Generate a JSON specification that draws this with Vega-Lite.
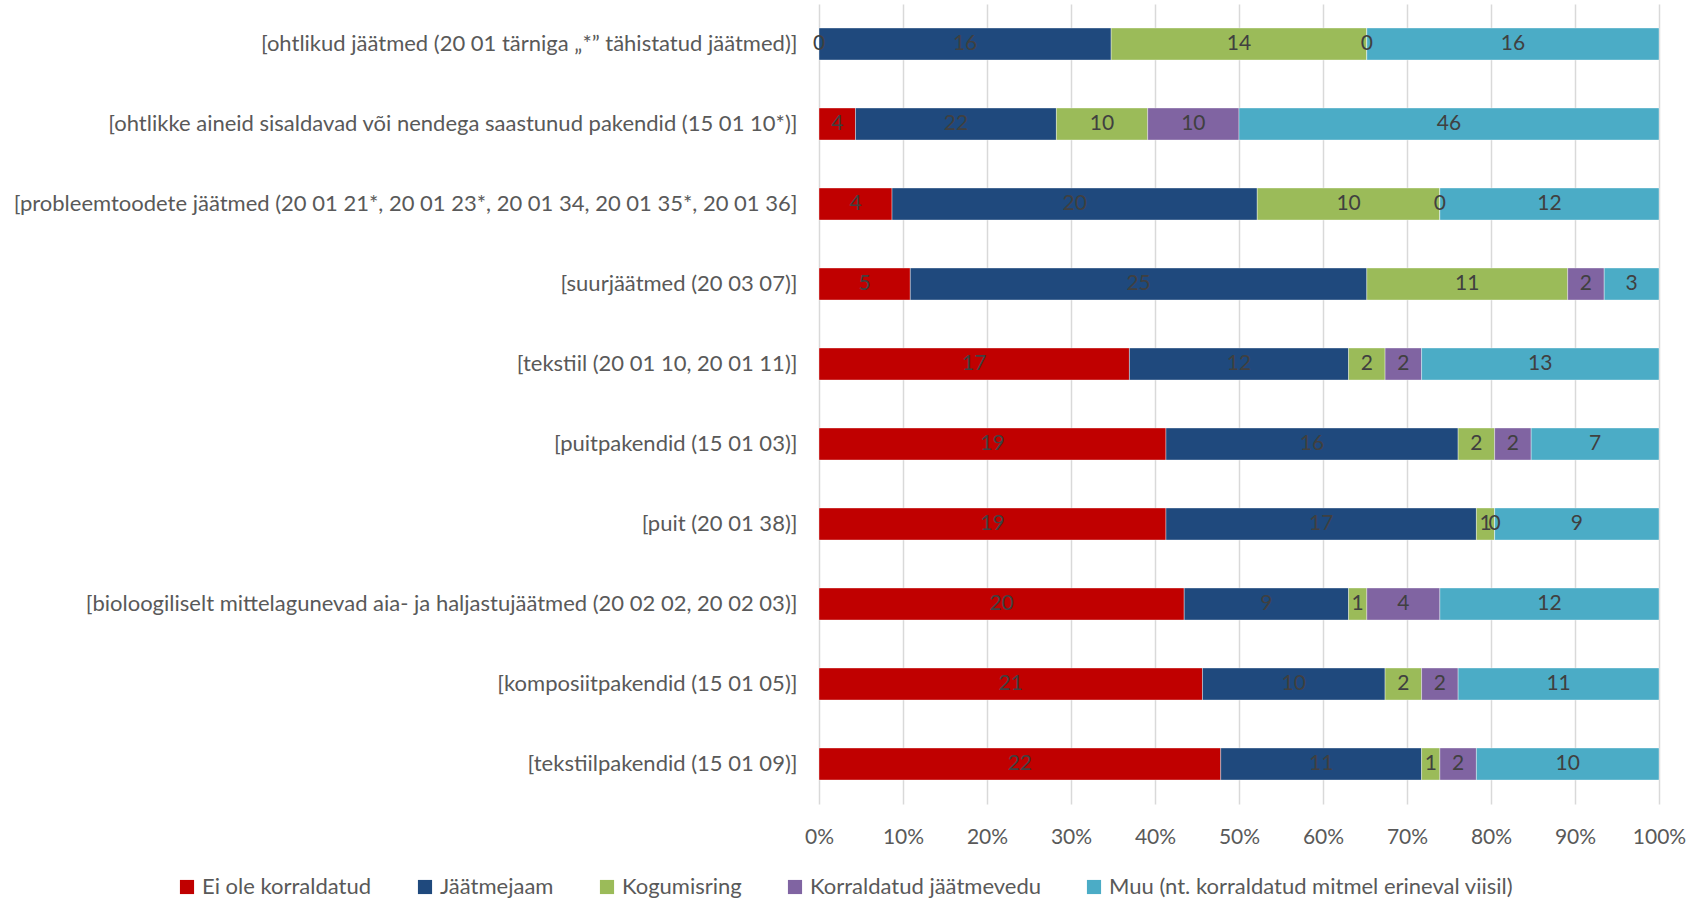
{
  "$schema": "https://vega.github.io/schema/vega-lite/v6.json",
  "autosize": {"type": "none"},
  "width": 840,
  "height": 800,
  "padding": {"left": 819, "top": 4, "right": 42, "bottom": 96},
  "background": "white",
  "config": {
    "font": "Lato",
    "view": {"stroke": null}
  },
  "data": {
    "values": [
      {"cat": "[ohtlikud jäätmed (20 01 tärniga „*” tähistatud jäätmed)]", "type": "Ei ole korraldatud", "n": 0},
      {"cat": "[ohtlikud jäätmed (20 01 tärniga „*” tähistatud jäätmed)]", "type": "Jäätmejaam", "n": 16},
      {"cat": "[ohtlikud jäätmed (20 01 tärniga „*” tähistatud jäätmed)]", "type": "Kogumisring", "n": 14},
      {"cat": "[ohtlikud jäätmed (20 01 tärniga „*” tähistatud jäätmed)]", "type": "Korraldatud jäätmevedu", "n": 0},
      {"cat": "[ohtlikud jäätmed (20 01 tärniga „*” tähistatud jäätmed)]", "type": "Muu (nt. korraldatud mitmel erineval viisil)", "n": 16},

      {"cat": "[ohtlikke aineid sisaldavad või nendega saastunud pakendid (15 01 10*)]", "type": "Ei ole korraldatud", "n": 4},
      {"cat": "[ohtlikke aineid sisaldavad või nendega saastunud pakendid (15 01 10*)]", "type": "Jäätmejaam", "n": 22},
      {"cat": "[ohtlikke aineid sisaldavad või nendega saastunud pakendid (15 01 10*)]", "type": "Kogumisring", "n": 10},
      {"cat": "[ohtlikke aineid sisaldavad või nendega saastunud pakendid (15 01 10*)]", "type": "Korraldatud jäätmevedu", "n": 10},
      {"cat": "[ohtlikke aineid sisaldavad või nendega saastunud pakendid (15 01 10*)]", "type": "Muu (nt. korraldatud mitmel erineval viisil)", "n": 46},

      {"cat": "[probleemtoodete jäätmed (20 01 21*, 20 01 23*, 20 01 34, 20 01 35*, 20 01 36]", "type": "Ei ole korraldatud", "n": 4},
      {"cat": "[probleemtoodete jäätmed (20 01 21*, 20 01 23*, 20 01 34, 20 01 35*, 20 01 36]", "type": "Jäätmejaam", "n": 20},
      {"cat": "[probleemtoodete jäätmed (20 01 21*, 20 01 23*, 20 01 34, 20 01 35*, 20 01 36]", "type": "Kogumisring", "n": 10},
      {"cat": "[probleemtoodete jäätmed (20 01 21*, 20 01 23*, 20 01 34, 20 01 35*, 20 01 36]", "type": "Korraldatud jäätmevedu", "n": 0},
      {"cat": "[probleemtoodete jäätmed (20 01 21*, 20 01 23*, 20 01 34, 20 01 35*, 20 01 36]", "type": "Muu (nt. korraldatud mitmel erineval viisil)", "n": 12},

      {"cat": "[suurjäätmed (20 03 07)]", "type": "Ei ole korraldatud", "n": 5},
      {"cat": "[suurjäätmed (20 03 07)]", "type": "Jäätmejaam", "n": 25},
      {"cat": "[suurjäätmed (20 03 07)]", "type": "Kogumisring", "n": 11},
      {"cat": "[suurjäätmed (20 03 07)]", "type": "Korraldatud jäätmevedu", "n": 2},
      {"cat": "[suurjäätmed (20 03 07)]", "type": "Muu (nt. korraldatud mitmel erineval viisil)", "n": 3},

      {"cat": "[tekstiil (20 01 10, 20 01 11)]", "type": "Ei ole korraldatud", "n": 17},
      {"cat": "[tekstiil (20 01 10, 20 01 11)]", "type": "Jäätmejaam", "n": 12},
      {"cat": "[tekstiil (20 01 10, 20 01 11)]", "type": "Kogumisring", "n": 2},
      {"cat": "[tekstiil (20 01 10, 20 01 11)]", "type": "Korraldatud jäätmevedu", "n": 2},
      {"cat": "[tekstiil (20 01 10, 20 01 11)]", "type": "Muu (nt. korraldatud mitmel erineval viisil)", "n": 13},

      {"cat": "[puitpakendid (15 01 03)]", "type": "Ei ole korraldatud", "n": 19},
      {"cat": "[puitpakendid (15 01 03)]", "type": "Jäätmejaam", "n": 16},
      {"cat": "[puitpakendid (15 01 03)]", "type": "Kogumisring", "n": 2},
      {"cat": "[puitpakendid (15 01 03)]", "type": "Korraldatud jäätmevedu", "n": 2},
      {"cat": "[puitpakendid (15 01 03)]", "type": "Muu (nt. korraldatud mitmel erineval viisil)", "n": 7},

      {"cat": "[puit (20 01 38)]", "type": "Ei ole korraldatud", "n": 19},
      {"cat": "[puit (20 01 38)]", "type": "Jäätmejaam", "n": 17},
      {"cat": "[puit (20 01 38)]", "type": "Kogumisring", "n": 1},
      {"cat": "[puit (20 01 38)]", "type": "Korraldatud jäätmevedu", "n": 0},
      {"cat": "[puit (20 01 38)]", "type": "Muu (nt. korraldatud mitmel erineval viisil)", "n": 9},

      {"cat": "[bioloogiliselt mittelagunevad aia- ja haljastujäätmed (20 02 02, 20 02 03)]", "type": "Ei ole korraldatud", "n": 20},
      {"cat": "[bioloogiliselt mittelagunevad aia- ja haljastujäätmed (20 02 02, 20 02 03)]", "type": "Jäätmejaam", "n": 9},
      {"cat": "[bioloogiliselt mittelagunevad aia- ja haljastujäätmed (20 02 02, 20 02 03)]", "type": "Kogumisring", "n": 1},
      {"cat": "[bioloogiliselt mittelagunevad aia- ja haljastujäätmed (20 02 02, 20 02 03)]", "type": "Korraldatud jäätmevedu", "n": 4},
      {"cat": "[bioloogiliselt mittelagunevad aia- ja haljastujäätmed (20 02 02, 20 02 03)]", "type": "Muu (nt. korraldatud mitmel erineval viisil)", "n": 12},

      {"cat": "[komposiitpakendid (15 01 05)]", "type": "Ei ole korraldatud", "n": 21},
      {"cat": "[komposiitpakendid (15 01 05)]", "type": "Jäätmejaam", "n": 10},
      {"cat": "[komposiitpakendid (15 01 05)]", "type": "Kogumisring", "n": 2},
      {"cat": "[komposiitpakendid (15 01 05)]", "type": "Korraldatud jäätmevedu", "n": 2},
      {"cat": "[komposiitpakendid (15 01 05)]", "type": "Muu (nt. korraldatud mitmel erineval viisil)", "n": 11},

      {"cat": "[tekstiilpakendid (15 01 09)]", "type": "Ei ole korraldatud", "n": 22},
      {"cat": "[tekstiilpakendid (15 01 09)]", "type": "Jäätmejaam", "n": 11},
      {"cat": "[tekstiilpakendid (15 01 09)]", "type": "Kogumisring", "n": 1},
      {"cat": "[tekstiilpakendid (15 01 09)]", "type": "Korraldatud jäätmevedu", "n": 2},
      {"cat": "[tekstiilpakendid (15 01 09)]", "type": "Muu (nt. korraldatud mitmel erineval viisil)", "n": 10}
    ]
  },
  "transform": [
    {"stack": "n", "groupby": ["cat"], "sort": [{"field": "type", "order": "ascending"}], "offset": "normalize", "as": ["x0", "x1"]},
    {"calculate": "(datum.x0 + datum.x1) / 2", "as": "xm"}
  ],
  "encoding": {
    "y": {
      "field": "cat",
      "type": "nominal",
      "sort": null,
      "title": null,
      "scale": {"paddingInner": 0.6, "paddingOuter": 0.3},
      "axis": {
        "domain": false,
        "ticks": false,
        "grid": false,
        "labelFont": "Lato",
        "labelFontSize": 22,
        "labelColor": "#595959",
        "labelPadding": 22,
        "labelLimit": 900
      }
    }
  },
  "layer": [
    {
      "mark": {"type": "bar", "stroke": "white", "strokeWidth": 0.6, "strokeOpacity": 0.6},
      "encoding": {
        "x": {
          "field": "x0",
          "type": "quantitative",
          "scale": {"domain": [0, 1], "nice": false},
          "title": null,
          "axis": {
            "format": ".0%",
            "values": [0, 0.1, 0.2, 0.3, 0.4, 0.5, 0.6, 0.7, 0.8, 0.9, 1],
            "labelOverlap": false,
            "domain": false,
            "ticks": false,
            "grid": true,
            "gridColor": "#D9D9D9",
            "gridWidth": 1.5,
            "labelFont": "Lato",
            "labelFontSize": 21,
            "labelColor": "#595959",
            "labelPadding": 22,
            "labelFlush": false
          }
        },
        "x2": {"field": "x1"},
        "color": {
          "field": "type",
          "type": "nominal",
          "scale": {
            "domain": ["Ei ole korraldatud", "Jäätmejaam", "Kogumisring", "Korraldatud jäätmevedu", "Muu (nt. korraldatud mitmel erineval viisil)"],
            "range": ["#C00000", "#1F497D", "#9BBB59", "#8064A2", "#4BACC6"]
          },
          "legend": {
            "title": null,
            "orient": "none",
            "direction": "horizontal",
            "legendX": -643,
            "legendY": 872,
            "symbolType": "square",
            "symbolSize": 200,
            "symbolStrokeWidth": 0,
            "labelFont": "Lato",
            "labelFontSize": 22,
            "labelColor": "#595959",
            "labelLimit": 700,
            "columnPadding": 42,
            "labelOffset": 4
          }
        }
      }
    },
    {
      "mark": {"type": "text", "font": "Lato", "fontSize": 21, "color": "#404040", "baseline": "middle", "align": "center"},
      "encoding": {
        "x": {"field": "xm", "type": "quantitative"},
        "text": {"field": "n", "type": "quantitative"}
      }
    }
  ]
}
